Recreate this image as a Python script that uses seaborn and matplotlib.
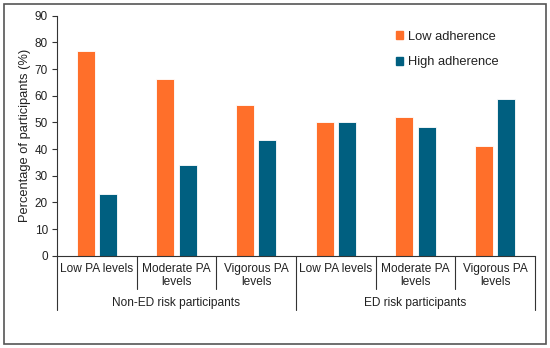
import matplotlib
matplotlib.use("Agg")
import matplotlib.pyplot as plt
import seaborn as sns
import pandas as pd
from matplotlib.patches import Rectangle
from matplotlib.lines import Line2D

sns.set_style("white")
plt.rcParams['font.family'] = ['Liberation Sans', 'DejaVu Sans']

groups = ["Non-ED risk participants", "ED risk participants"]
levels = ["Low PA levels", "Moderate PA\nlevels", "Vigorous PA\nlevels"]
series = ["Low adherence", "High adherence"]
low_adherence = [76.9, 66.1, 56.6, 50.0, 51.9, 41.2]
high_adherence = [23.1, 33.9, 43.4, 50.0, 48.1, 58.8]
colors = ["#FF6F2A", "#005F80"]

cats = [f"{g}|{l}" for g in groups for l in levels]
df = pd.DataFrame({
    "cat": cats * 2,
    "value": low_adherence + high_adherence,
    "series": [series[0]] * 6 + [series[1]] * 6,
})

fig = plt.figure(figsize=(5.5, 3.48), dpi=100)
ax = fig.add_axes([0.1036, 0.265, 0.8691, 0.69])
sns.barplot(data=df, x="cat", y="value", hue="series", order=cats,
            hue_order=series, palette=colors, saturation=1, width=0.56, gap=0.2,
            ax=ax, legend=False, edgecolor="white", linewidth=0.6)

ax.set_xlim(-0.5, 5.5)
ax.set_ylim(0, 90)
ax.set_yticks(range(0, 91, 10))
ax.tick_params(axis="y", labelsize=8.5, length=3.5, width=0.8, color="#333333",
               direction="out", left=True, pad=3, labelcolor="#222222")
ax.set_xticks([])
ax.set_xlabel("")
ax.set_ylabel("Percentage of participants (%)", fontsize=9.3, color="#222222", labelpad=3)
for s in ["top", "right"]:
    ax.spines[s].set_visible(False)
ax.spines["left"].set_color("#333333")
ax.spines["bottom"].set_color("#333333")
ax.spines["left"].set_linewidth(0.8)
ax.spines["bottom"].set_linewidth(0.8)

# multi-level category axis
trans = ax.get_xaxis_transform()
px = 1.0 / (0.69 * 348)  # one pixel in axes fraction (vertical)
n = len(cats)
for i in range(n + 1):
    x = i - 0.5
    outer = (i % 3 == 0)
    y_end = -(310 - 255.7) * px if outer else -(289 - 255.7) * px
    ax.add_line(Line2D([x, x], [0, y_end], transform=trans, color="#333333",
                       lw=0.8, clip_on=False))
for i, c in enumerate(cats):
    lab = c.split("|")[1]
    ax.text(i, -(263 - 255.7) * px, lab, transform=trans, ha="center", va="top",
            fontsize=8.6, color="#222222", linespacing=1.05)
for gi, g in enumerate(groups):
    ax.text(gi * 3 + 1, -(297 - 255.7) * px, g, transform=trans, ha="center",
            va="top", fontsize=8.6, color="#222222")

# legend
handles = [Rectangle((0, 0), 1, 1, color=c) for c in colors]
fig.legend(handles, series, loc="upper left", bbox_to_anchor=(0.698, 0.945),
           frameon=False, fontsize=9.3, handlelength=0.6, handleheight=0.6,
           handletextpad=0.4, labelspacing=1.05, labelcolor="#222222")

# figure border
fig.add_artist(Rectangle((4 / 550, 4 / 348), 542 / 550, 340 / 348,
                         transform=fig.transFigure, fill=False,
                         edgecolor="#555555", lw=1.2))

fig.savefig("out.png", dpi=100)
